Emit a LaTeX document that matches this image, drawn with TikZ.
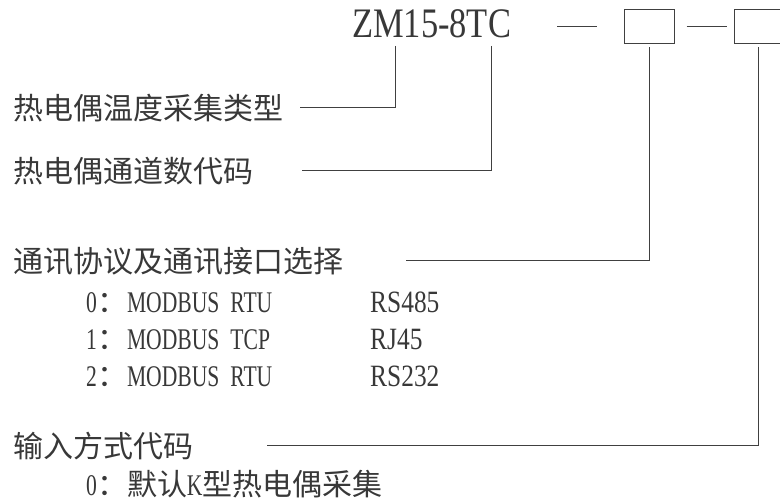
\documentclass[tikz,border=0pt]{standalone}
\usepackage{fontspec}
\setmainfont{Liberation Serif}
\newfontfamily\latn[FakeStretch=0.72]{Liberation Serif}
\newfontfamily\codefont[FakeStretch=0.82]{Liberation Serif}
\newfontfamily\cjk{Noto Sans CJK SC}
\newcommand{\hz}[1]{{\fontsize{30}{30}\selectfont\cjk #1}}
\tikzset{
  title/.style={anchor=west, inner sep=0pt, font=\fontsize{30}{30}\selectfont\cjk, text=black!78},
  item/.style={anchor=base west, inner sep=0pt, font=\fontsize{30}{30}\selectfont\latn, text=black!78},
  lead/.style={draw=black!75, line width=1pt},
  slot/.style={lead, minimum width=50pt, minimum height=34pt, inner sep=0pt}
}

\begin{document}
\begin{tikzpicture}[x=1pt, y=-1pt]
\useasboundingbox (0,0) rectangle (780,502);
\node[item, font=\fontsize{42}{42}\selectfont\codefont] (model) at (352,38) {ZM15-8TC};
\node[slot] (slotA) at (649,27) {};
\node[slot, minimum width=48pt] (slotB) at (758,27) {};
\coordinate (dash) at (557,27);
\draw[lead, shorten >=27pt] (dash) -- (slotA.west);
\draw[lead, shorten <=12pt, shorten >=7pt] (slotA) -- (slotB);

\node[title] (kind) at (13,108) {热电偶温度采集类型};
\node[title] (chan) at (13,171) {热电偶通道数代码};
\node[title] (proto) at (13,261) {通讯协议及通讯接口选择};
\node[title] (input) at (13,446) {输入方式代码};

\foreach \n/\m/\p/\y in {0/RTU/RS485/313, 1/TCP/RJ45/350, 2/RTU/RS232/387} {
  \node[item] (row\n) at (86,\y) {\n\hz{：}MODBUS\hspace{11pt}\m};
  \node[item, font=\fontsize{31}{31}\selectfont\codefont] (port\n) at (370,\y) {\p};
}
\node[item] (mode0) at (86,496) {0\hz{：默认}K\hz{型热电偶采集}};

\coordinate (tapA) at (395,46);
\coordinate (tapB) at (491,46);
\draw[lead, shorten >=17pt] (tapA) |- (kind);
\draw[lead, shorten >=49pt] (tapB) |- (chan);
\draw[lead, shorten <=3pt, shorten >=63pt] (slotA.south) |- (proto);
\draw[lead, shorten <=3pt, shorten >=74pt] (slotB.south) |- (input);
\end{tikzpicture}
\end{document}
